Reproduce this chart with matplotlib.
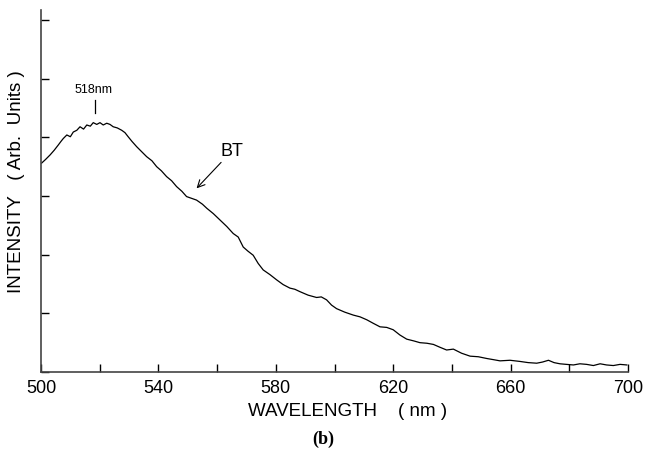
import numpy as np
import matplotlib
matplotlib.use("Agg")
import matplotlib.pyplot as plt

# Emission spectrum
wavelength = [500.2, 501.5, 503.1, 504.5, 505.9, 506.8, 507.6, 508.8, 510.0, 511.0,
              512.2, 513.3, 514.5, 515.6, 516.8, 517.8, 519.0, 520.1, 521.2, 522.4,
              523.5, 524.6, 526.0, 527.5, 528.6, 529.7, 531.0, 532.6, 534.2, 536.0,
              537.8, 539.4, 541.0, 542.8, 544.5, 546.2, 548.0, 549.6, 551.3, 553.0,
              555.0, 556.5, 558.7, 561.0, 563.3, 565.5, 567.2, 568.9, 570.5, 572.3,
              574.0, 575.7, 578.0, 580.3, 582.5, 584.8, 586.5, 588.2, 591.0, 593.9,
              595.5, 597.3, 599.0, 600.7, 603.5, 606.4, 608.7, 611.0, 613.2, 615.5,
              617.8, 620.0, 622.3, 624.6, 627.0, 629.1, 631.5, 633.7, 636.0, 638.2,
              640.5, 643.3, 646.2, 649.0, 651.9, 654.2, 656.4, 659.8, 663.2, 666.0,
              668.9, 670.9, 672.9, 674.8, 676.8, 679.0, 681.4, 683.6, 685.9, 688.2,
              690.5, 692.7, 695.0, 697.3, 699.6]
intensity = [3.56, 3.62, 3.70, 3.78, 3.87, 3.93, 3.98, 4.04, 4.01, 4.09,
             4.12, 4.18, 4.14, 4.21, 4.19, 4.25, 4.22, 4.25, 4.21, 4.24,
             4.22, 4.18, 4.16, 4.12, 4.08, 4.01, 3.93, 3.84, 3.76, 3.67,
             3.60, 3.50, 3.43, 3.33, 3.26, 3.16, 3.08, 2.99, 2.96, 2.93,
             2.86, 2.79, 2.70, 2.59, 2.48, 2.36, 2.30, 2.13, 2.06, 1.99,
             1.85, 1.74, 1.66, 1.57, 1.49, 1.43, 1.41, 1.37, 1.31, 1.27,
             1.28, 1.23, 1.14, 1.08, 1.02, 0.97, 0.94, 0.89, 0.83, 0.77,
             0.76, 0.72, 0.63, 0.56, 0.53, 0.50, 0.49, 0.47, 0.42, 0.375,
             0.39, 0.32, 0.27, 0.26, 0.23, 0.21, 0.19, 0.20, 0.18, 0.16,
             0.15, 0.17, 0.20, 0.16, 0.14, 0.13, 0.12, 0.14, 0.13, 0.11,
             0.14, 0.12, 0.11, 0.13, 0.12]

x_ticks = [500, 520, 540, 560, 580, 600, 620, 640, 660, 680, 700]
x_ticklabels = ["500", "", "540", "", "580", "", "620", "", "660", "", "700"]
y_ticks = [0, 1, 2, 3, 4, 5, 6]

plt.rcParams['font.family'] = ['Liberation Sans', 'DejaVu Sans']

fig = plt.figure(figsize=(6.45, 4.57), dpi=100)
ax = fig.add_axes([41 / 645, 85 / 457, 587 / 645, 362 / 457])

ax.plot(wavelength, intensity, color='black', linewidth=0.9)

ax.set_xlim(500, 700)
ax.set_ylim(0, 6.17)
ax.set_xticks(x_ticks)
ax.set_xticklabels(x_ticklabels)
ax.set_yticks(y_ticks)
ax.set_yticklabels([])
ax.tick_params(axis='both', direction='in', length=6, width=1.0, labelsize=13, pad=6)
for side in ['top', 'right']:
    ax.spines[side].set_visible(False)
for side in ['left', 'bottom']:
    ax.spines[side].set_linewidth(1.2)
    ax.spines[side].set_color('#444444')

# peak marker and sample label
ax.text(518, 4.70, "518nm", fontsize=9, ha='center', va='bottom')
ax.plot([518.5, 518.5], [4.41, 4.63], color='black', linewidth=0.9)
ax.annotate("BT", xy=(553, 3.13), xytext=(565, 3.62), fontsize=13,
            ha='center', va='bottom',
            arrowprops=dict(arrowstyle='->', color='black', lw=0.8,
                            shrinkA=0, shrinkB=0))

fig.text(348 / 645, 1 - 412 / 457, "WAVELENGTH    ( nm )", fontsize=13.5,
         ha='center', va='center')
fig.text(17 / 645, 1 - 182 / 457, "INTENSITY   ( Arb.  Units )", fontsize=13.5,
         ha='center', va='center', rotation=90)
fig.text(323 / 645, 1 - 439 / 457, "(b)", fontsize=13, ha='center', va='center',
         family='Liberation Serif', fontweight='bold')

fig.savefig("out.png", dpi=100)
